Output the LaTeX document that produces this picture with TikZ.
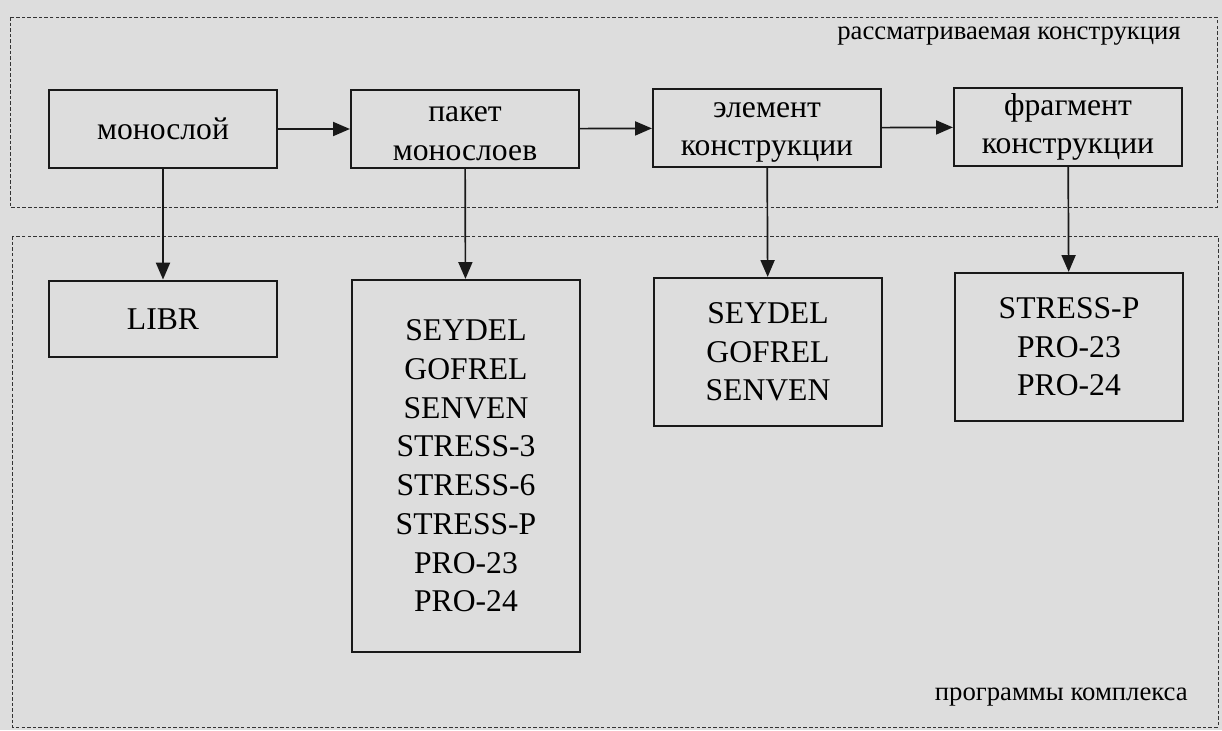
\documentclass[tikz,border=0pt]{standalone}
\usepackage{fontspec}
\setmainfont{Liberation Serif}
\usetikzlibrary{arrows.meta}
\definecolor{scan}{RGB}{221,221,221}

\begin{document}
\begin{tikzpicture}[x=0.025cm,y=-0.025cm,
    blk/.style={draw=black!90, line width=1.5pt, fill=scan, minimum width=5.7cm,
        align=center, inner sep=0pt, font=\fontsize{22.5}{27.5}\selectfont},
    frame/.style={draw=black!80, dash pattern=on 2.5pt off 1.5pt, line width=0.7pt},
    arr/.style={-{Triangle[length=12pt,width=10pt]}, line width=1.2pt, draw=black!90, fill=black!90},
    note/.style={font=\fontsize{19}{22}\selectfont, inner sep=0pt}]
                    \fill[scan] (0,0) rectangle (1222,730);
                    \useasboundingbox (0,0) rectangle (1222,730);

                    % frames
                    \draw[frame] (10,17) rectangle (1217,207);
                    \draw[frame] (12,236) rectangle (1218,727);
                    \node[note, anchor=east] (tConstr) at (1181,36) {рассматриваемая конструкция};
                    \node[note, anchor=east] (tProg) at (1188,697) {программы комплекса};

                    % upper row
                    \node[blk, minimum height=1.95cm] (mono) at (163,129) {монослой};
                    \node[blk, minimum height=1.95cm] (paket) at (465,129) {\rule{0pt}{17pt}пакет\\монослоев};
                    \node[blk, minimum height=1.95cm] (elem) at (767,128) {\rule{0pt}{17pt}элемент\\конструкции};
                    \node[blk, minimum height=1.95cm] (frag) at (1068,127) {фрагмент\\конструкции};

                    % lower row
                    \node[blk, minimum height=1.92cm] (libr) at (163,319) {LIBR};
                    \node[blk, minimum height=9.3cm] (progA) at (466,466) {SEYDEL\\GOFREL\\SENVEN\\STRESS-3\\STRESS-6\\STRESS-P\\PRO-23\\PRO-24};
                    \node[blk, minimum height=3.7cm] (progB) at (768,352) {SEYDEL\\GOFREL\\SENVEN};
                    \node[blk, minimum height=3.7cm] (progC) at (1069,347) {STRESS-P\\PRO-23\\PRO-24};

                    \draw[arr] (mono) -- (paket);
                    \draw[arr] (paket) -- (elem);
                    \draw[arr] (elem) -- (frag);
                    \draw[arr] (mono) -- (libr);
                    \draw[arr] (paket) -- (progA);
                    \draw[arr] (elem) -- (progB);
                    \draw[arr] (frag) -- (progC);
\end{tikzpicture}
\end{document}
